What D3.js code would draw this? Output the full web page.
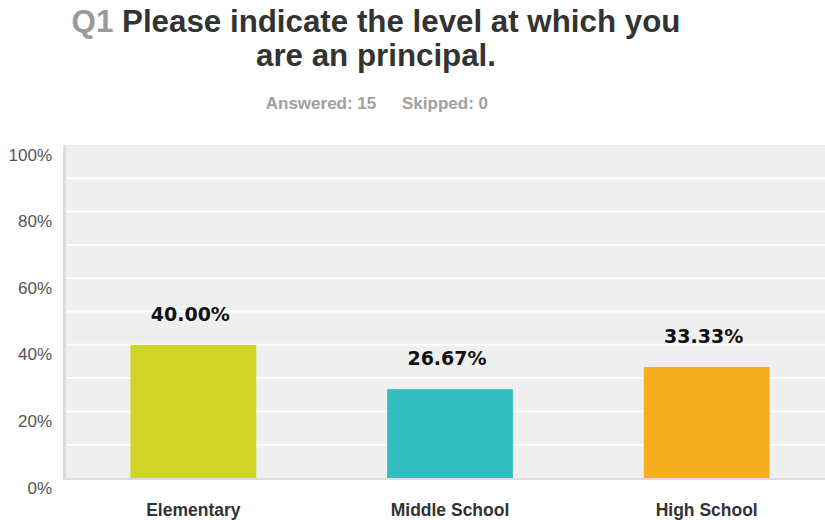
<!DOCTYPE html>
<html>
<head>
<meta charset="utf-8">
<script src="https://cdn.jsdelivr.net/npm/d3@7"></script>
<style>
  html, body { margin: 0; padding: 0; background: #fff; }
  svg { display: block; }
</style>
</head>
<body>
<svg id="chart" width="825" height="520"></svg>
<script>
// Survey question Q1: school level of responding principals
const categories = ["Elementary", "Middle School", "High School"];
const percents = [40.00, 26.67, 33.33];
const barColors = ["#CFD428", "#33BDBE", "#F6AE20"];
const yTicks = [0, 20, 40, 60, 80, 100];
const gridValues = [10, 20, 30, 40, 50, 60, 70, 80, 90];
const answered = 15;
const skipped = 0;

const svg = d3.select("#chart");
const W = 825;
const plot = { left: 63, right: 835, top: 145, bottom: 478 };
const sans = "'Liberation Sans', Arial, Helvetica, sans-serif";

const x = d3.scaleBand()
  .domain(categories)
  .range([plot.left + 2, plot.right])
  .paddingInner(0.51)
  .paddingOuter(0.255);

const y = d3.scaleLinear()
  .domain([0, 100])
  .range([plot.bottom, plot.top]);

// Title
const title = svg.append("text")
  .attr("text-anchor", "middle")
  .attr("font-family", sans)
  .attr("font-weight", "bold")
  .attr("font-size", 31.3)
  .attr("fill", "#333333");
const line1 = title.append("tspan").attr("x", 376).attr("y", 32);
line1.append("tspan").attr("fill", "#9a9a9a").text("Q1 ");
line1.append("tspan").text("Please indicate the level at which you");
title.append("tspan").attr("x", 376).attr("y", 66).text("are an principal.");

// Answered / skipped
const stats = svg.append("text")
  .attr("y", 109)
  .attr("font-family", sans)
  .attr("font-weight", "bold")
  .attr("font-size", 17)
  .attr("fill", "#a0a0a0");
stats.append("tspan").attr("x", 321).attr("text-anchor", "middle").text(`Answered: ${answered}`);
stats.append("tspan").attr("x", 445).attr("text-anchor", "middle").text(`Skipped: ${skipped}`);

// Plot background
svg.append("rect")
  .attr("x", plot.left).attr("y", plot.top)
  .attr("width", W - plot.left).attr("height", plot.bottom - plot.top)
  .attr("fill", "#EFEFEF");

// Horizontal gridlines
svg.append("g").selectAll("line")
  .data(gridValues)
  .join("line")
  .attr("x1", plot.left).attr("x2", W)
  .attr("y1", d => y(d)).attr("y2", d => y(d))
  .attr("stroke", "#ffffff")
  .attr("stroke-width", 2);

// Left and bottom borders
svg.append("rect")
  .attr("x", plot.left).attr("y", plot.top)
  .attr("width", 3).attr("height", plot.bottom - plot.top + 2)
  .attr("fill", "#DCDCDC");
svg.append("rect")
  .attr("x", plot.left).attr("y", plot.bottom)
  .attr("width", W - plot.left).attr("height", 2)
  .attr("fill", "#DCDCDC");

// Bars
svg.append("g").selectAll("rect")
  .data(categories)
  .join("rect")
  .attr("x", d => x(d))
  .attr("width", x.bandwidth())
  .attr("y", (d, i) => y(percents[i]))
  .attr("height", (d, i) => y(0) - y(percents[i]))
  .attr("fill", (d, i) => barColors[i]);

// Value labels
svg.append("g").selectAll("text")
  .data(categories)
  .join("text")
  .attr("x", d => x(d) + x.bandwidth() / 2 - 3)
  .attr("y", (d, i) => y(percents[i]) - 24)
  .attr("text-anchor", "middle")
  .attr("font-family", "'DejaVu Sans', Verdana, sans-serif")
  .attr("font-weight", "bold")
  .attr("font-size", 19)
  .attr("fill", "#111111")
  .text((d, i) => percents[i].toFixed(2) + "%");

// Y axis labels
const yAxis = d3.axisLeft(y)
  .tickValues(yTicks)
  .tickSize(0)
  .tickPadding(0)
  .tickFormat(d => d + "%");
const gy = svg.append("g")
  .attr("transform", `translate(52,0)`)
  .call(yAxis);
gy.select(".domain").remove();
gy.selectAll("text")
  .attr("dy", 15)
  .attr("font-family", sans)
  .attr("font-size", 17)
  .attr("fill", "#555555");

// X axis labels
const xAxis = d3.axisBottom(x).tickSize(0).tickPadding(0);
const gx = svg.append("g")
  .attr("transform", `translate(0,503.5)`)
  .call(xAxis);
gx.select(".domain").remove();
gx.selectAll("text")
  .attr("font-family", sans)
  .attr("font-weight", "bold")
  .attr("font-size", 17.5)
  .attr("fill", "#333333");
</script>
</body>
</html>
